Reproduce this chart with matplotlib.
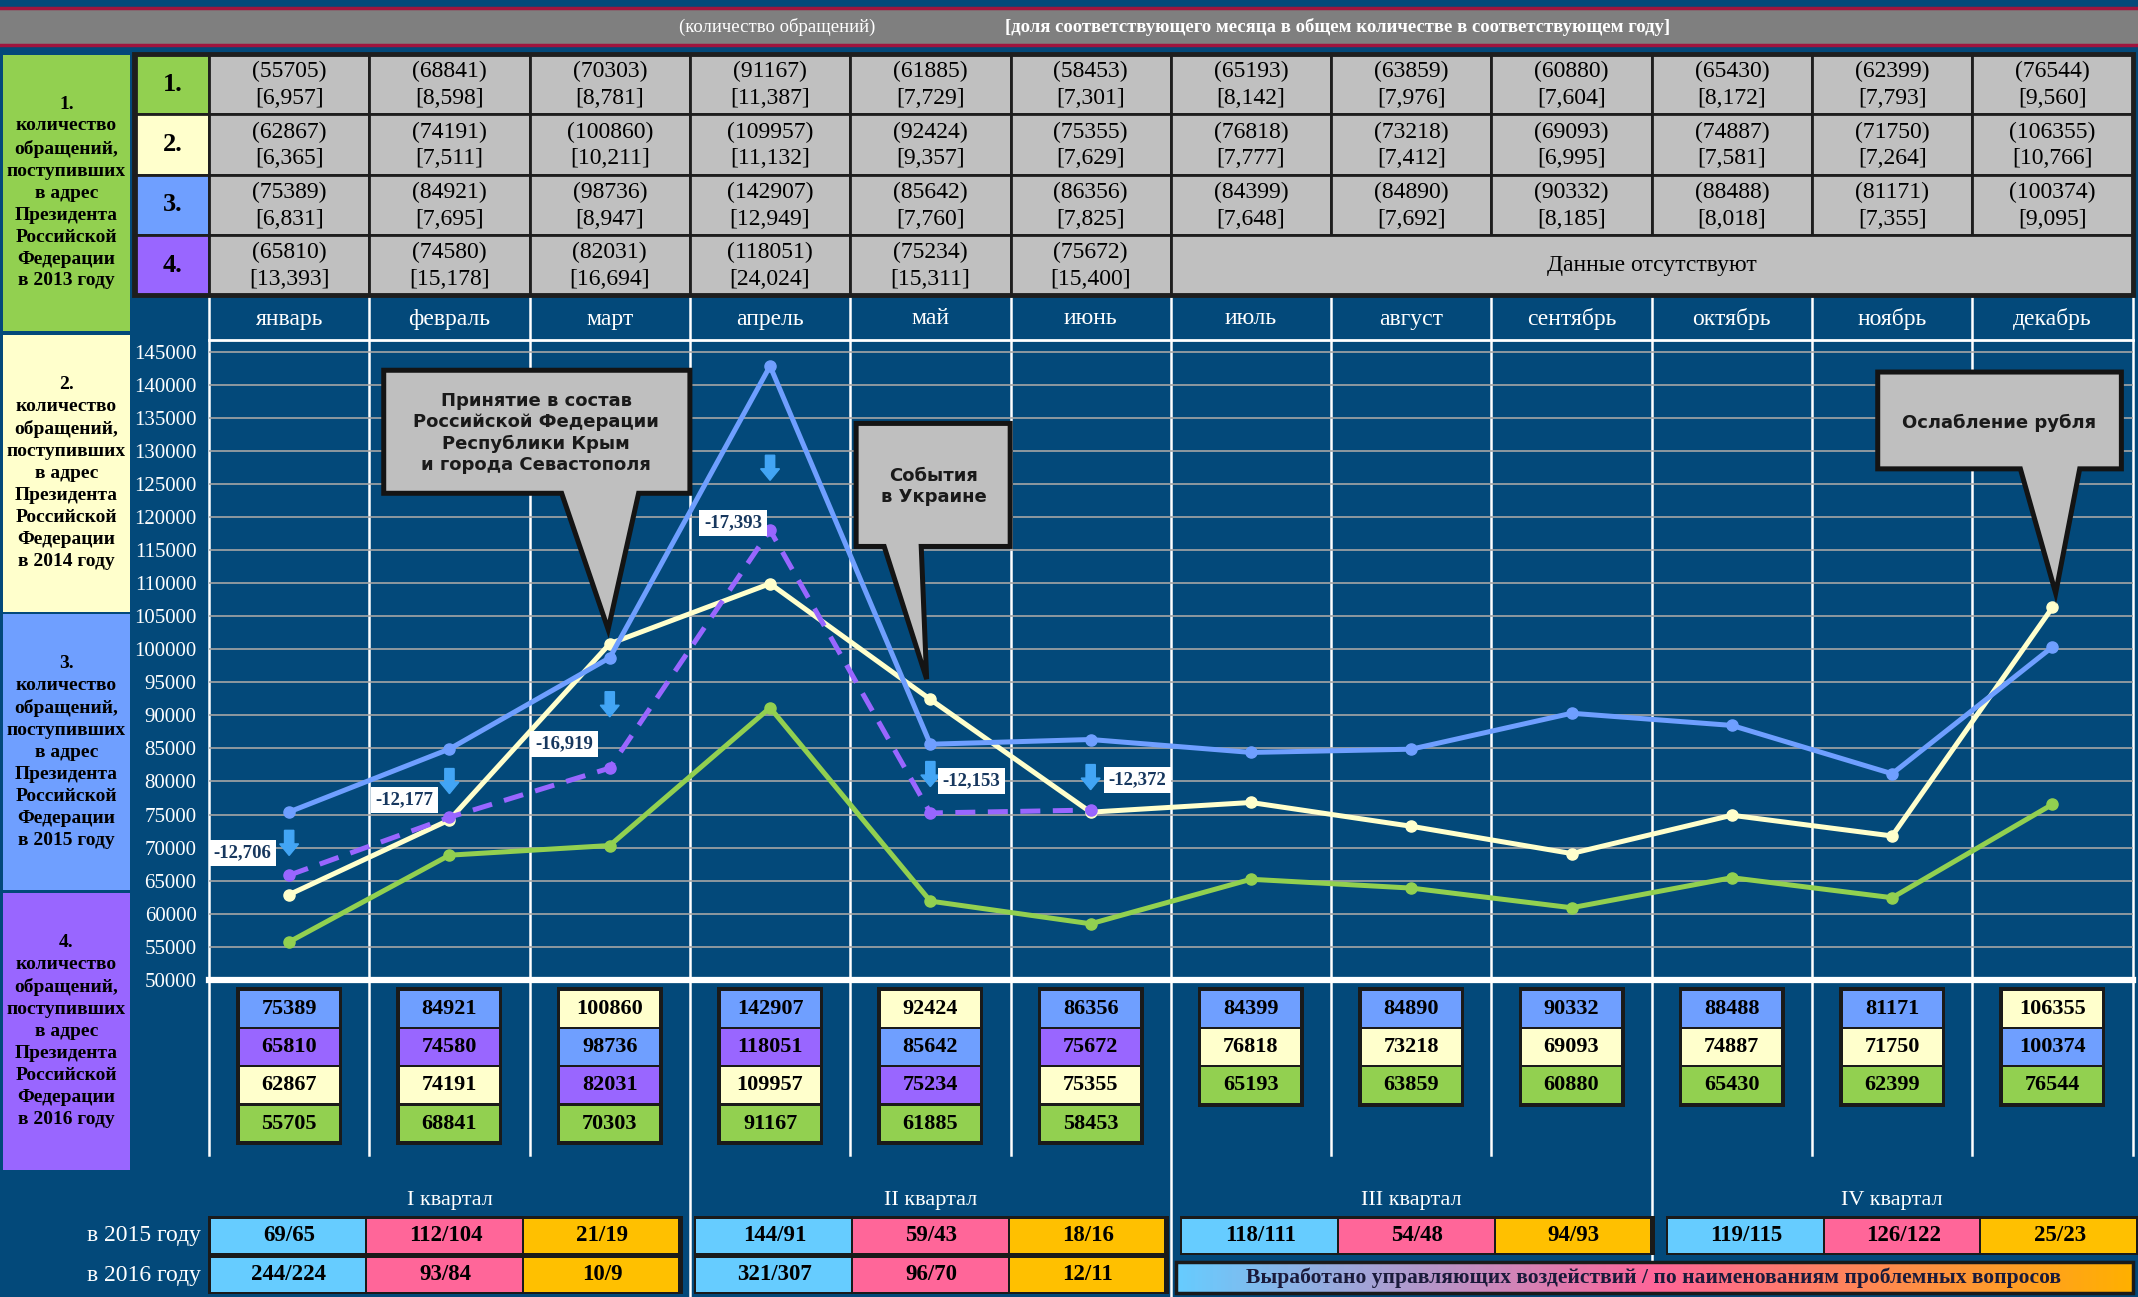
import matplotlib
matplotlib.use('Agg')
import matplotlib.pyplot as plt
from matplotlib.patches import Rectangle, Polygon, FancyArrow
from matplotlib.colors import LinearSegmentedColormap
import numpy as np

# ---- данные ----
months = ['январь', 'февраль', 'март', 'апрель', 'май', 'июнь',
          'июль', 'август', 'сентябрь', 'октябрь', 'ноябрь', 'декабрь']
years = ['2013', '2014', '2015', '2016']
v2013 = [55705, 68841, 70303, 91167, 61885, 58453, 65193, 63859, 60880, 65430, 62399, 76544]
v2014 = [62867, 74191, 100860, 109957, 92424, 75355, 76818, 73218, 69093, 74887, 71750, 106355]
v2015 = [75389, 84921, 98736, 142907, 85642, 86356, 84399, 84890, 90332, 88488, 81171, 100374]
v2016 = [65810, 74580, 82031, 118051, 75234, 75672]
s2013 = ['6,957', '8,598', '8,781', '11,387', '7,729', '7,301', '8,142', '7,976', '7,604', '8,172', '7,793', '9,560']
s2014 = ['6,365', '7,511', '10,211', '11,132', '9,357', '7,629', '7,777', '7,412', '6,995', '7,581', '7,264', '10,766']
s2015 = ['6,831', '7,695', '8,947', '12,949', '7,760', '7,825', '7,648', '7,692', '8,185', '8,018', '7,355', '9,095']
s2016 = ['13,393', '15,178', '16,694', '24,024', '15,311', '15,400']
diff_labels = ['-12,706', '-12,177', '-16,919', '-17,393', '-12,153', '-12,372']
quarters = ['I квартал', 'II квартал', 'III квартал', 'IV квартал']
q2015 = [['69/65', '112/104', '21/19'], ['144/91', '59/43', '18/16'],
         ['118/111', '54/48', '94/93'], ['119/115', '126/122', '25/23']]
q2016 = [['244/224', '93/84', '10/9'], ['321/307', '96/70', '12/11']]
events = ['Принятие в состав\nРоссийской Федерации\nРеспублики Крым\nи города Севастополя',
          'События\nв Украине',
          'Ослабление рубля']

values = [v2013, v2014, v2015, v2016]
shares = [s2013, s2014, s2015, s2016]

# ---- оформление ----
W, H = 2138, 1297
DPI = 100
BG = '#03497A'
SERIF = 'Liberation Serif'
SANS = 'DejaVu Sans'
COLORS = ['#92D050', '#FFFFCC', '#6F9FFF', '#9966FF']
CELL_GRAY = '#C0C0C0'
EDGE = '#1E1E1E'
Q_COLORS = ['#66CCFF', '#FF6699', '#FFC000']

X0, CW = 209, 160.3          # левая граница и ширина месяца (px)
Y_AX_TOP, Y_AX_BOT = 341, 979.6
YMIN, YMAX = 50000, 146700

fig = plt.figure(figsize=(W / DPI, H / DPI), dpi=DPI, facecolor=BG)

# фон в пиксельных координатах
bg = fig.add_axes([0, 0, 1, 1])
bg.set_xlim(0, W)
bg.set_ylim(H, 0)
bg.axis('off')
bg.set_facecolor(BG)


def rect(x, y, w, h, fc, ec='none', lw=0, z=2):
    bg.add_patch(Rectangle((x, y), w, h, facecolor=fc, edgecolor=ec, linewidth=lw, zorder=z))


# верхняя плашка
rect(-5, 7.5, W + 10, 37, '#7F7F7F', '#A0153E', 2.5)
bg.text(777, 27, '(количество обращений)', ha='center', va='center', color='white',
        fontsize=13.5, family=SERIF, zorder=5)
bg.text(1338, 27, '[доля соответствующего месяца в общем количестве в соответствующем году]',
        ha='center', va='center', color='white', fontsize=13.5, family=SERIF,
        weight='bold', zorder=5)

# левые подписи
left_tops = [54.5, 335, 613.6, 893]
for k, yr in enumerate(years):
    rect(3, left_tops[k], 127, 276.5, COLORS[k])
    bg.text(66.5, left_tops[k] + 138, f'{k + 1}.\nколичество\nобращений,\nпоступивших\nв адрес\n'
            f'Президента\nРоссийской\nФедерации\nв {yr} году',
            ha='center', va='center', fontsize=14, family=SERIF, weight='bold',
            linespacing=1.38, color='black', zorder=5)

# таблица
TY0, RH = 54, 60.3
for r in range(4):
    y = TY0 + r * RH
    rect(136, y, X0 - 136, RH, COLORS[r], EDGE, 2)
    bg.text((136 + X0) / 2, y + RH / 2, f'{r + 1}.', ha='center', va='center',
            fontsize=19, family=SERIF, weight='bold', zorder=5)
    for i in range(12):
        if i >= len(values[r]):
            continue
        rect(X0 + i * CW, y, CW, RH, CELL_GRAY, EDGE, 2)
        bg.text(X0 + (i + 0.5) * CW, y + RH / 2 + 1, f'({values[r][i]})\n[{shares[r][i]}]',
                ha='center', va='center', fontsize=17, family=SERIF, linespacing=1.35, zorder=5)
    if len(values[r]) < 12:
        n = len(values[r])
        rect(X0 + n * CW, y, (12 - n) * CW, RH, CELL_GRAY, EDGE, 2)
        bg.text(X0 + (n + 12) / 2 * CW, y + RH / 2, 'Данные отсутствуют', ha='center', va='center',
                fontsize=17, family=SERIF, zorder=5)
bg.add_patch(Rectangle((134, TY0), X0 + 12 * CW - 134, 4 * RH, fill=False,
                       edgecolor=EDGE, linewidth=3.5, zorder=4))

# шапка с месяцами и вертикальные линии
for i, m in enumerate(months):
    bg.text(X0 + (i + 0.5) * CW, 319, m, ha='center', va='center', color='white',
            fontsize=17, family=SERIF, zorder=5)
for k in range(13):
    x = X0 + k * CW
    bottom = 1297 if k in (3, 6) else (1262 if k == 9 else 1155)
    bg.plot([x, x], [296, bottom], color='white', lw=1.8, zorder=1)
bg.plot([X0, X0 + 12 * CW], [339.5, 339.5], color='white', lw=2, zorder=1)

# блоки значений под графиком
BW, BH, BTOP = 106, 38.2, 990
for i in range(12):
    items = [(values[s][i], COLORS[s]) for s in range(4) if i < len(values[s])]
    items.sort(key=lambda t: -t[0])
    cx = X0 + (i + 0.5) * CW
    rect(cx - BW / 2, BTOP - 3, BW, len(items) * BH + 5, '#1A1A1A')
    for j, (v, c) in enumerate(items):
        rect(cx - BW / 2 + 3.5, BTOP + j * BH + 1, BW - 7, BH - 2.5, c, z=3)
        bg.text(cx, BTOP + j * BH + BH / 2, str(v), ha='center', va='center',
                fontsize=16, family=SERIF, weight='bold', zorder=5)

# кварталы
QX = [X0 + q * (3 * CW + 5) - 1 for q in range(4)]
QW = 3 * CW - 6
for q in range(4):
    bg.text(X0 + (q * 3 + 1.5) * CW, 1200, quarters[q], ha='center', va='center',
            color='white', fontsize=16, family=SERIF, zorder=5)
    rows = [q2015[q]] + ([q2016[q]] if q < len(q2016) else [])
    for r, row in enumerate(rows):
        y = 1216 + r * 39
        rect(QX[q], y, QW, 39, '#1A1A1A', z=2)
        for c, txt in enumerate(row):
            rect(QX[q] + 2.5 + c * (QW - 5) / 3, y + 2.5, (QW - 5) / 3 - 2, 34, Q_COLORS[c], z=3)
            bg.text(QX[q] + 2.5 + (c + 0.5) * (QW - 5) / 3, y + 19.5, txt, ha='center',
                    va='center', fontsize=16.5, family=SERIF, weight='bold', zorder=5)
bg.text(201, 1236, 'в 2015 году', ha='right', va='center', color='white', fontsize=17,
        family=SERIF, zorder=5)
bg.text(201, 1276, 'в 2016 году', ha='right', va='center', color='white', fontsize=17,
        family=SERIF, zorder=5)

# градиентная плашка
cmap = LinearSegmentedColormap.from_list('band', ['#66CCFF', '#FF6699', '#FFB000'])
bg.imshow(np.linspace(0, 1, 256).reshape(1, -1), extent=(1176, 2133, 1293, 1262),
          cmap=cmap, aspect='auto', zorder=2)
bg.add_patch(Rectangle((1176, 1262), 957, 31, fill=False, edgecolor='#1A1A1A',
                       linewidth=2.5, zorder=4))
bg.text(1654, 1278, 'Выработано управляющих воздействий / по наименованиям проблемных вопросов',
        ha='center', va='center', fontsize=15.5, family=SERIF, weight='bold',
        color='#1A1A3A', zorder=5)
bg.set_xlim(0, W)
bg.set_ylim(H, 0)

# ---- график ----
ax = fig.add_axes([X0 / W, 1 - Y_AX_BOT / H, 12 * CW / W, (Y_AX_BOT - Y_AX_TOP) / H])
ax.set_zorder(2)
ax.patch.set_alpha(0)
ax.set_xlim(-0.5, 11.5)
ax.set_ylim(YMIN, YMAX)
ax.set_yticks(range(50000, 145001, 5000))
ax.set_xticks([])
ax.yaxis.grid(True, color='#A6A6A6', lw=1.2)
ax.set_axisbelow(True)
for sp in ax.spines.values():
    sp.set_visible(False)
ax.tick_params(axis='y', length=0, pad=9, labelcolor='white', labelsize=15)
for lab in ax.get_yticklabels():
    lab.set_family(SERIF)
ax.axhline(50000, color='white', lw=4.5, clip_on=False, zorder=3)

x = np.arange(12)
for s in range(4):
    vals = values[s]
    ls = (0, (4, 2.5)) if s == 3 else '-'
    ax.plot(x[:len(vals)], vals, color=COLORS[s], lw=3.6, ls=ls, marker='o', ms=8,
            dash_capstyle='butt', zorder=4 + s * 0.1, clip_on=False)

# стрелки и подписи разницы
arrow_dy = [4890, 5480, 9660, 9450, 5890, 4990]
label_off = [(-0.29, -1520), (-0.28, -2870), (-0.285, -6040), (-0.23, -8320),
             (0.255, -1060), (0.29, -450)]
for i, lab in enumerate(diff_labels):
    yc = v2016[i] + arrow_dy[i]
    ax.add_patch(FancyArrow(i, yc + 1900, 0, -3800, width=0.058, head_width=0.118,
                            head_length=1750, length_includes_head=True,
                            color='#42A5F5', zorder=6))
    ax.text(i + label_off[i][0], yc + label_off[i][1], lab, ha='center', va='center',
            fontsize=13.5, family=SERIF, weight='bold', color='#17375E', zorder=7,
            bbox=dict(boxstyle='square,pad=0.25', fc='white', ec='none'))

# выноски
callouts = [((0.59, 2.5, 123640, 142270), (1.70, 2.18, 1.99, 103030), (1.54, 132770)),
            ((3.537, 4.498, 115590, 134220), (3.712, 3.943, 3.977, 95500), (4.02, 124670)),
            ((9.91, 11.43, 127340, 142000), (10.8, 11.17, 11.02, 108520), (10.67, 134290))]
for (bx, tail, tc), txt in zip(callouts, events):
    x0, x1, y0, y1 = bx
    b0, b1, tx, ty = tail
    pts = [(x0, y1), (x1, y1), (x1, y0), (b1, y0), (tx, ty), (b0, y0), (x0, y0)]
    ax.add_patch(Polygon(pts, closed=True, facecolor='#BFBFBF', edgecolor='#141414',
                         linewidth=3.6, zorder=8, clip_on=False, joinstyle='miter'))
    ax.text(tc[0], tc[1], txt, ha='center', va='center', fontsize=13, family=SANS,
            weight='bold', color='#1A1A1A', linespacing=1.25, zorder=9)

fig.savefig('out.png', dpi=DPI, facecolor=BG)
